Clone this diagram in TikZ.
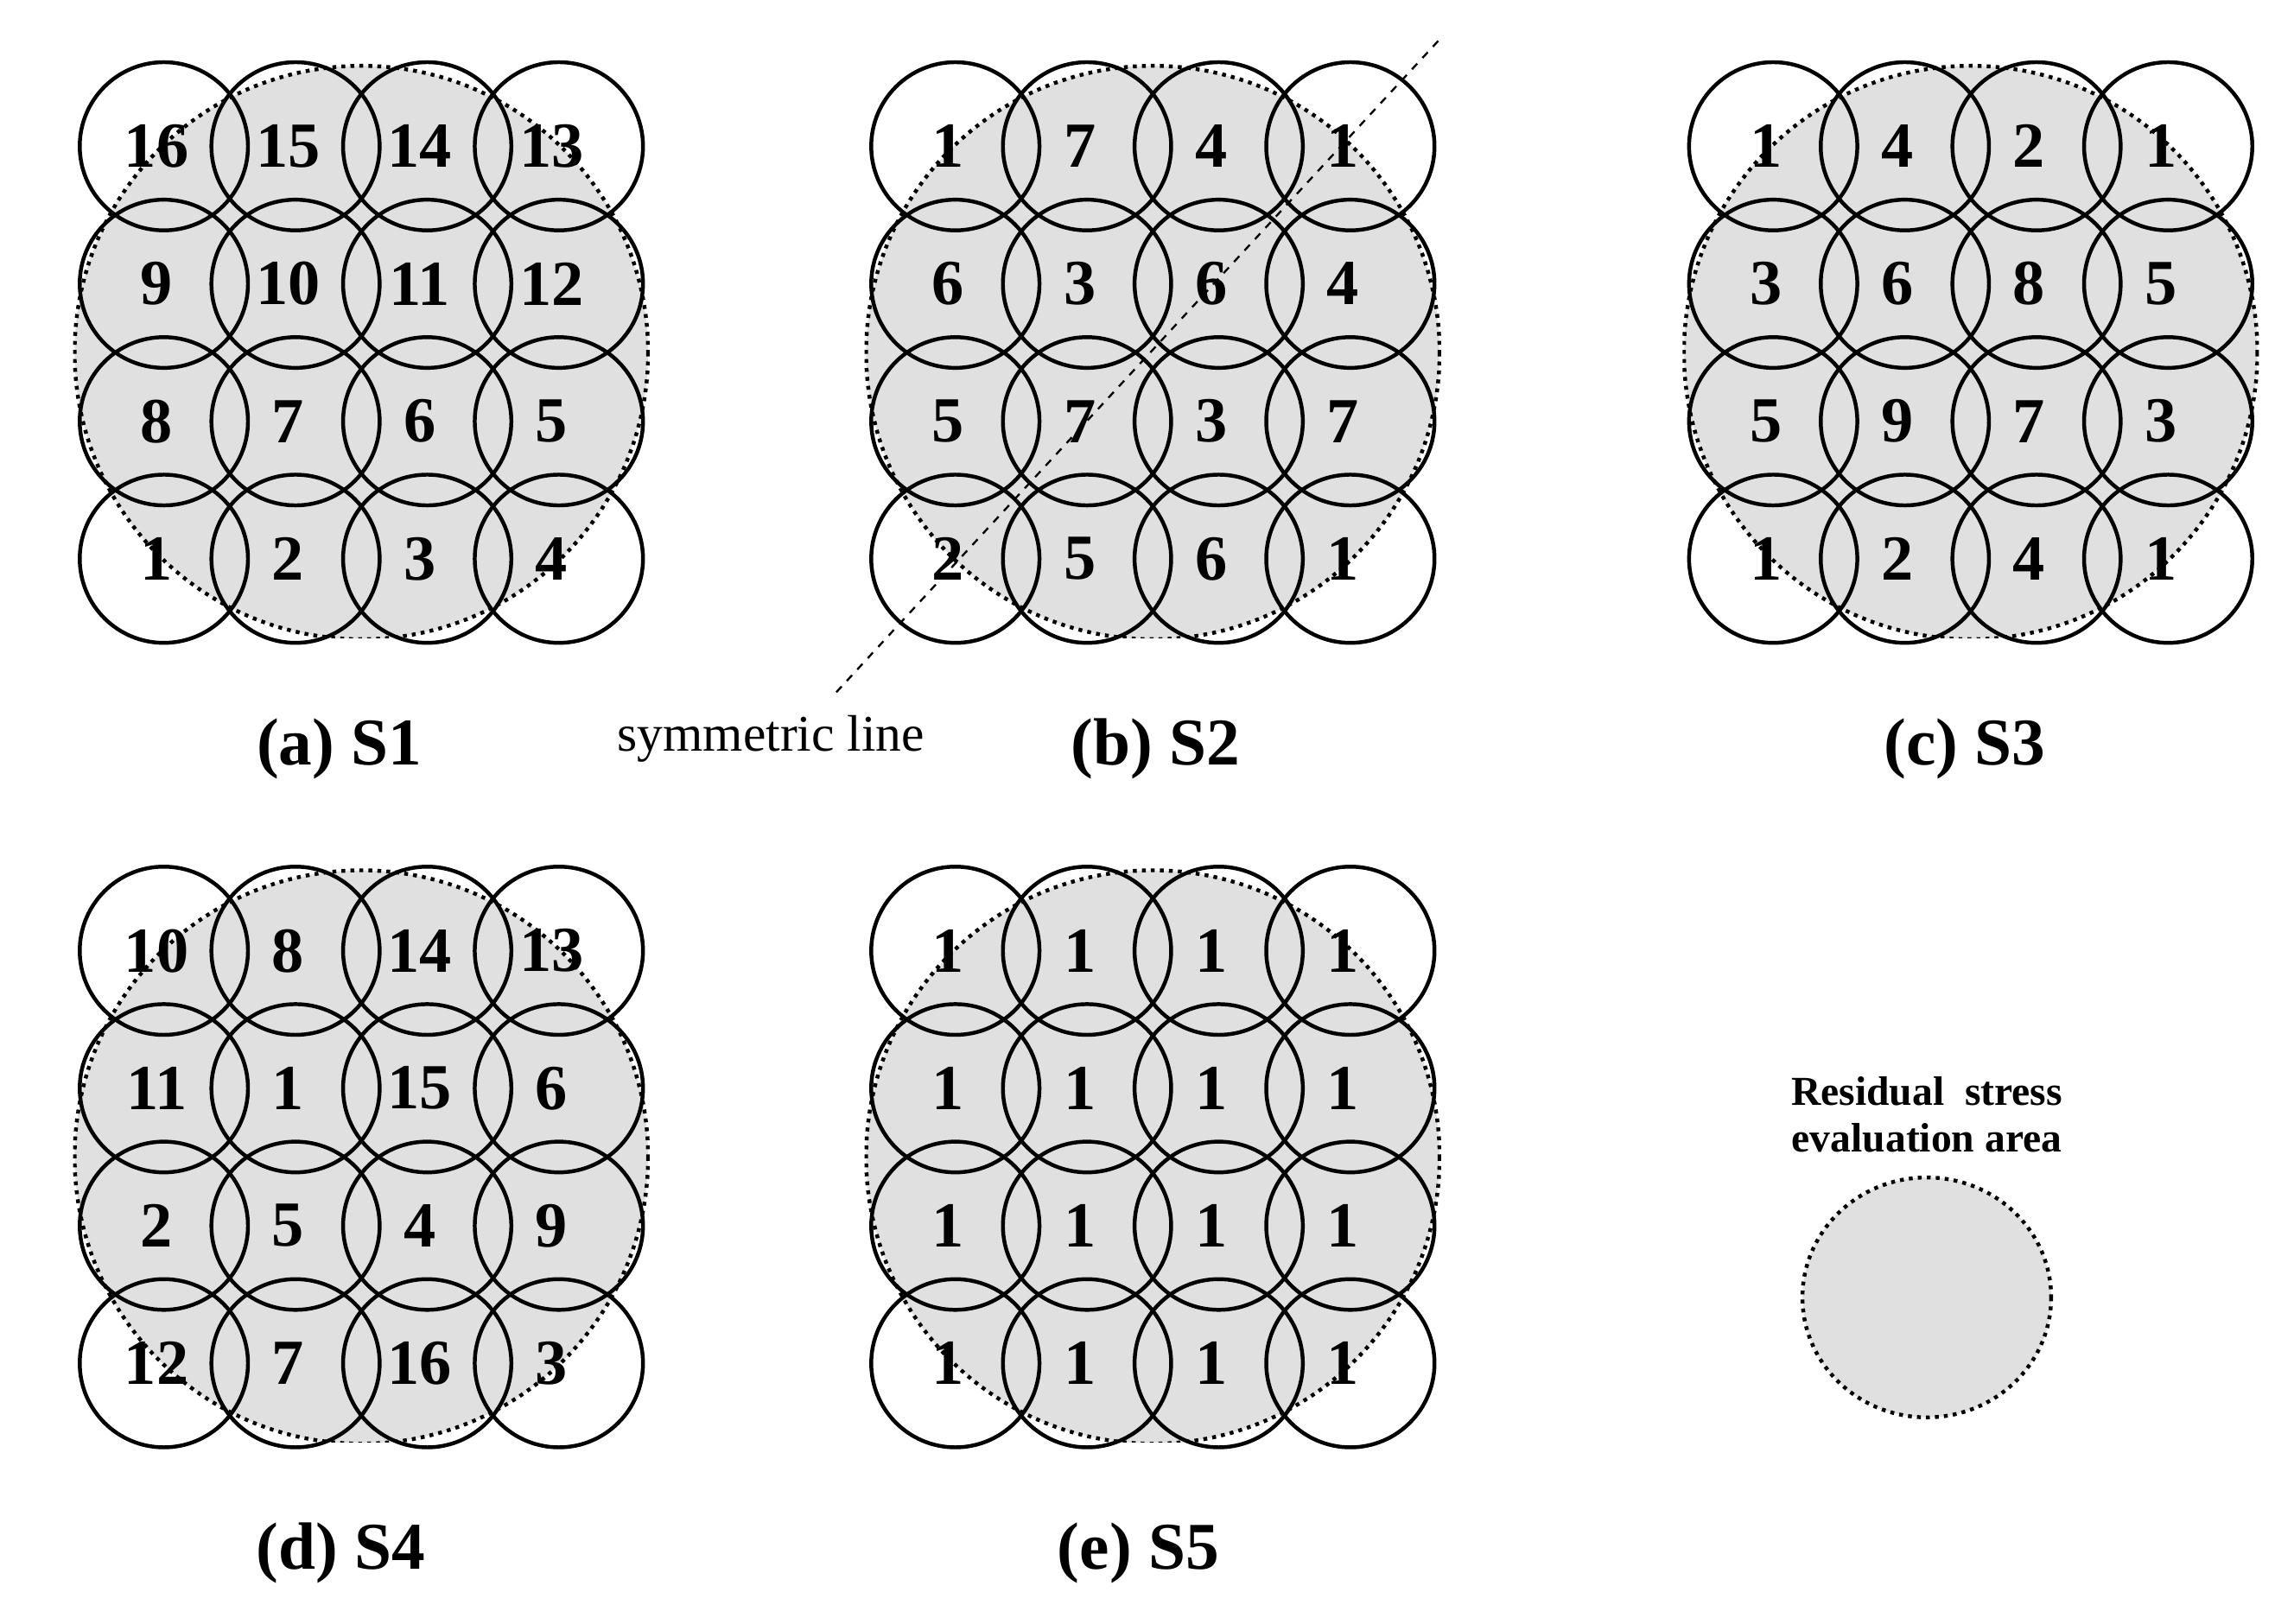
\documentclass[tikz,border=0pt]{standalone}
\usepackage{fontspec}
\setmainfont{Liberation Serif}
\begin{document}
\begin{tikzpicture}[x=0.02cm,y=-0.02cm,
  sc/.style={draw=black,line width=1.5pt},
  num/.style={font=\bfseries\fontsize{25}{25}\selectfont,inner sep=0},
  lbl/.style={font=\bfseries\fontsize{26}{26}\selectfont,inner sep=0},
  area/.style={fill=black!12,draw=black,line width=1.5pt,dotted}]
\useasboundingbox (0,0) rectangle (1568,1110);
\newcommand{\panel}[4]{% #1 name, #2 x0, #3 y0, #4 list of labels
  \begin{scope}
    \clip (#2+135-197,#3+141-198) rectangle (#2+135+197,#3+141+195);
    \path[area] (#2+135,#3+141) circle (196);
  \end{scope}
  \foreach \r in {0,...,3}{\foreach \c in {0,...,3}{
    \node[sc,circle,minimum size=115*0.02cm,inner sep=0] (#1c\r\c) at (#2+90*\c,#3+94*\r) {};}}
  \foreach \t [count=\i from 0] in {#4}{
    \pgfmathtruncatemacro{\rr}{int(\i/4)}\pgfmathtruncatemacro{\cc}{mod(\i,4)}
    \node[num] (#1n\i) at (#2+90*\cc-5,#3+94*\rr) {\t};}
}
\panel{a}{112}{100}{16,15,14,13,9,10,11,12,8,7,6,5,1,2,3,4}
\panel{b}{653}{100}{1,7,4,1,6,3,6,4,5,7,3,7,2,5,6,1}
\panel{c}{1212}{100}{1,4,2,1,3,6,8,5,5,9,7,3,1,2,4,1}
\panel{d}{112}{650}{10,8,14,13,11,1,15,6,2,5,4,9,12,7,16,3}
\panel{e}{653}{650}{1,1,1,1,1,1,1,1,1,1,1,1,1,1,1,1}
\coordinate (s1) at (983,28); \coordinate (s2) at (570,475);
\draw[dashed,line width=0.8pt] (s1) -- (s2);
\node[lbl] (la) at (232,512) {(a) S1};
\node[lbl] (lb) at (790,512) {(b) S2};
\node[lbl] (lc) at (1343,512) {(c) S3};
\node[lbl] (ld) at (233,1062) {(d) S4};
\node[lbl] (le) at (778,1062) {(e) S5};
\node[inner sep=0,font=\fontsize{20}{20}\selectfont] (sym) at (527,505) {symmetric line};
\node[inner sep=0,font=\bfseries\fontsize{16}{16}\selectfont,align=center] (res) at (1317,762) {Residual\ \ stress\\[2pt]evaluation area};
\path[area] (1317,887) ellipse (85 and 82);
\end{tikzpicture}
\end{document}
